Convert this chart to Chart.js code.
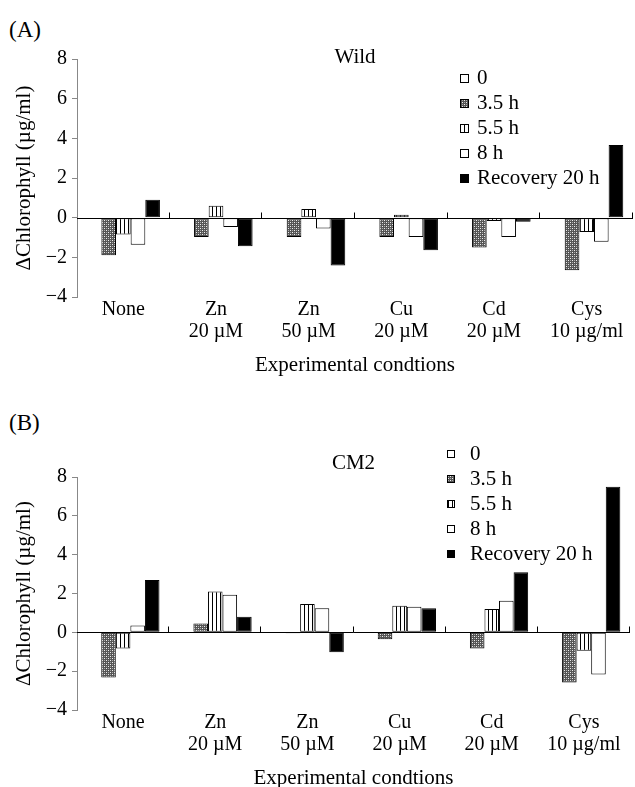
<!DOCTYPE html>
<html>
<head>
<meta charset="utf-8">
<script src="https://cdn.jsdelivr.net/npm/chart.js@4.4.0/dist/chart.umd.min.js"></script>
<style>
  html, body { margin: 0; padding: 0; background: #fff; overflow: hidden; }
  body { width: 635px; height: 787px; position: relative; font-family: "Liberation Serif", "Times New Roman", serif; }
  .panel { position: absolute; left: 9px; font-size: 23px; line-height: 26px; color: #000; }
  #chartA { position: absolute; left: 0; top: 0; }
  #chartB { position: absolute; left: 0; top: 390px; }
</style>
</head>
<body>
<div class="panel" style="top:17px">(A)</div>
<div class="panel" style="top:410px">(B)</div>
<canvas id="chartA" width="635" height="390"></canvas>
<canvas id="chartB" width="635" height="413"></canvas>
<script>
// Categories and tick labels
const categories = ['None', ['Zn', '20 \u00b5M'], ['Zn', '50 \u00b5M'], ['Cu', '20 \u00b5M'], ['Cd', '20 \u00b5M'], ['Cys', '10 \u00b5g/ml']];
const seriesNames = ['0', '3.5 h', '5.5 h', '8 h', 'Recovery 20 h'];
const yTicks = [-4, -2, 0, 2, 4, 6, 8];

// (A) Wild
const wild0 = [0, 0, 0, 0, 0, 0];
const wild35 = [-1.9, -0.97, -0.97, -0.97, -1.5, -2.65];
const wild55 = [-0.85, 0.6, 0.44, 0.15, -0.17, -0.72];
const wild8 = [-1.36, -0.47, -0.55, -0.97, -0.97, -1.22];
const wildRec = [0.9, -1.44, -2.41, -1.64, -0.2, 3.67];

// (B) CM2
const cm0 = [0, 0, 0, 0, 0, 0];
const cm35 = [-2.33, 0.46, -0.05, -0.36, -0.83, -2.58];
const cm55 = [-0.83, 2.1, 1.46, 1.37, 1.2, -0.95];
const cm8 = [0.35, 1.94, 1.24, 1.32, 1.63, -2.17];
const cmRec = [2.7, 0.8, -1.03, 1.24, 3.09, 7.5];

Chart.defaults.font.family = '"Liberation Serif", "Times New Roman", serif';
Chart.defaults.color = '#000';

// Fill patterns for the hatched bars
function makePattern(w, h, draw) {
    const c = document.createElement('canvas');
    c.width = w;
    c.height = h;
    draw(c.getContext('2d'));
    return c.getContext('2d').createPattern(c, 'repeat');
}

const crossHatch = makePattern(4, 4, g => {
    g.fillStyle = '#555';
    g.fillRect(0, 0, 4, 4);
    g.fillStyle = '#eee';
    g.fillRect(0, 0, 1, 1);
    g.fillRect(2, 2, 1, 1);
    g.fillStyle = '#aaa';
    g.fillRect(2, 0, 1, 1);
    g.fillRect(0, 2, 1, 1);
});

const vStripes = makePattern(4, 4, g => {
    g.fillStyle = '#fff';
    g.fillRect(0, 0, 4, 4);
    g.fillStyle = '#000';
    g.fillRect(0, 0, 1, 4);
});

const fills = ['#fff', crossHatch, vStripes, '#fff', '#000'];

// Zero line, category ticks, panel title and legend
const decorPlugin = {
    id: 'decor',
    afterDatasetsDraw(chart, args, opts) {
        const {ctx, chartArea, scales} = chart;
        const y0 = Math.round(scales.y.getPixelForValue(0)) + 0.5;
        const n = chart.data.labels.length;
        const w = (scales.x.right - scales.x.left) / n;
        ctx.save();
        ctx.strokeStyle = '#000';
        ctx.lineWidth = 1;
        ctx.beginPath();
        ctx.moveTo(chartArea.left, y0);
        ctx.lineTo(chartArea.right, y0);
        for (let i = 1; i <= n; i++) {
            const x = Math.round(scales.x.left + i * w) - 0.5;
            ctx.moveTo(x, y0);
            ctx.lineTo(x, y0 - 6);
        }
        ctx.stroke();

        // panel title
        ctx.fillStyle = '#000';
        ctx.font = '21px "Liberation Serif"';
        ctx.textAlign = 'center';
        ctx.textBaseline = 'middle';
        ctx.fillText(opts.title, (chartArea.left + chartArea.right) / 2, opts.titleY);

        // legend
        ctx.textAlign = 'left';
        chart.data.datasets.forEach((ds, i) => {
            const y = opts.legendY + i * opts.row;
            const bx = opts.legendX;
            const by = Math.round(y - opts.box / 2);
            ctx.fillStyle = ds.backgroundColor;
            ctx.fillRect(bx, by, opts.box, opts.box);
            ctx.strokeStyle = '#000';
            ctx.strokeRect(bx + 0.5, by + 0.5, opts.box - 1, opts.box - 1);
            ctx.fillStyle = '#000';
            ctx.fillText(ds.label, bx + opts.box + opts.gap, y);
        });
        ctx.restore();
    }
};

function makeChart(id, series, padTop, padRight, decor) {
    return new Chart(document.getElementById(id), {
        type: 'bar',
        data: {
            labels: categories,
            datasets: series.map((values, i) => ({
                label: seriesNames[i],
                data: values,
                backgroundColor: fills[i],
                borderColor: '#000',
                borderWidth: 1,
                borderSkipped: false,
                categoryPercentage: 0.79,
                barPercentage: 1.0
            }))
        },
        options: {
            responsive: false,
            animation: false,
            layout: {
                padding: { top: padTop, right: padRight, bottom: 0, left: 0 }
            },
            plugins: {
                legend: { display: false },
                tooltip: { enabled: false },
                decor: decor
            },
            scales: {
                x: {
                    grid: { display: false, drawTicks: false },
                    border: { display: false },
                    ticks: {
                        font: { size: 20, lineHeight: 1.1 },
                        padding: 2,
                        maxRotation: 0,
                        autoSkip: false
                    },
                    title: {
                        display: true,
                        text: 'Experimental condtions',
                        font: { size: 21 },
                        padding: { top: 0, bottom: 12.4 }
                    },
                    afterFit: scale => { scale.height = 93; }
                },
                y: {
                    min: -4,
                    max: 8,
                    afterBuildTicks: scale => {
                        scale.ticks = yTicks.map(v => ({ value: v }));
                    },
                    grid: {
                        drawOnChartArea: false,
                        drawTicks: true,
                        tickLength: 5,
                        color: '#888'
                    },
                    border: { display: true, color: '#888' },
                    ticks: {
                        font: { size: 20 },
                        padding: 5,
                        callback: v => String(v).replace('-', '\u2212')
                    },
                    title: {
                        display: true,
                        text: '\u0394Chlorophyll (\u00b5g/ml)',
                        font: { size: 21 },
                        padding: { top: 11.4, bottom: 0 }
                    },
                    afterFit: scale => { scale.width = 77; }
                }
            }
        },
        plugins: [decorPlugin]
    });
}

const wildChart = makeChart('chartA', [wild0, wild35, wild55, wild8, wildRec], 59, 2, {
    title: 'Wild', titleY: 57,
    legendX: 460, legendY: 78, row: 25, box: 9, gap: 8
});

const cmChart = makeChart('chartB', [cm0, cm35, cm55, cm8, cmRec], 87, 5, {
    title: 'CM2', titleY: 73,
    legendX: 447, legendY: 64, row: 25, box: 8, gap: 15
});
</script>
</body>
</html>
